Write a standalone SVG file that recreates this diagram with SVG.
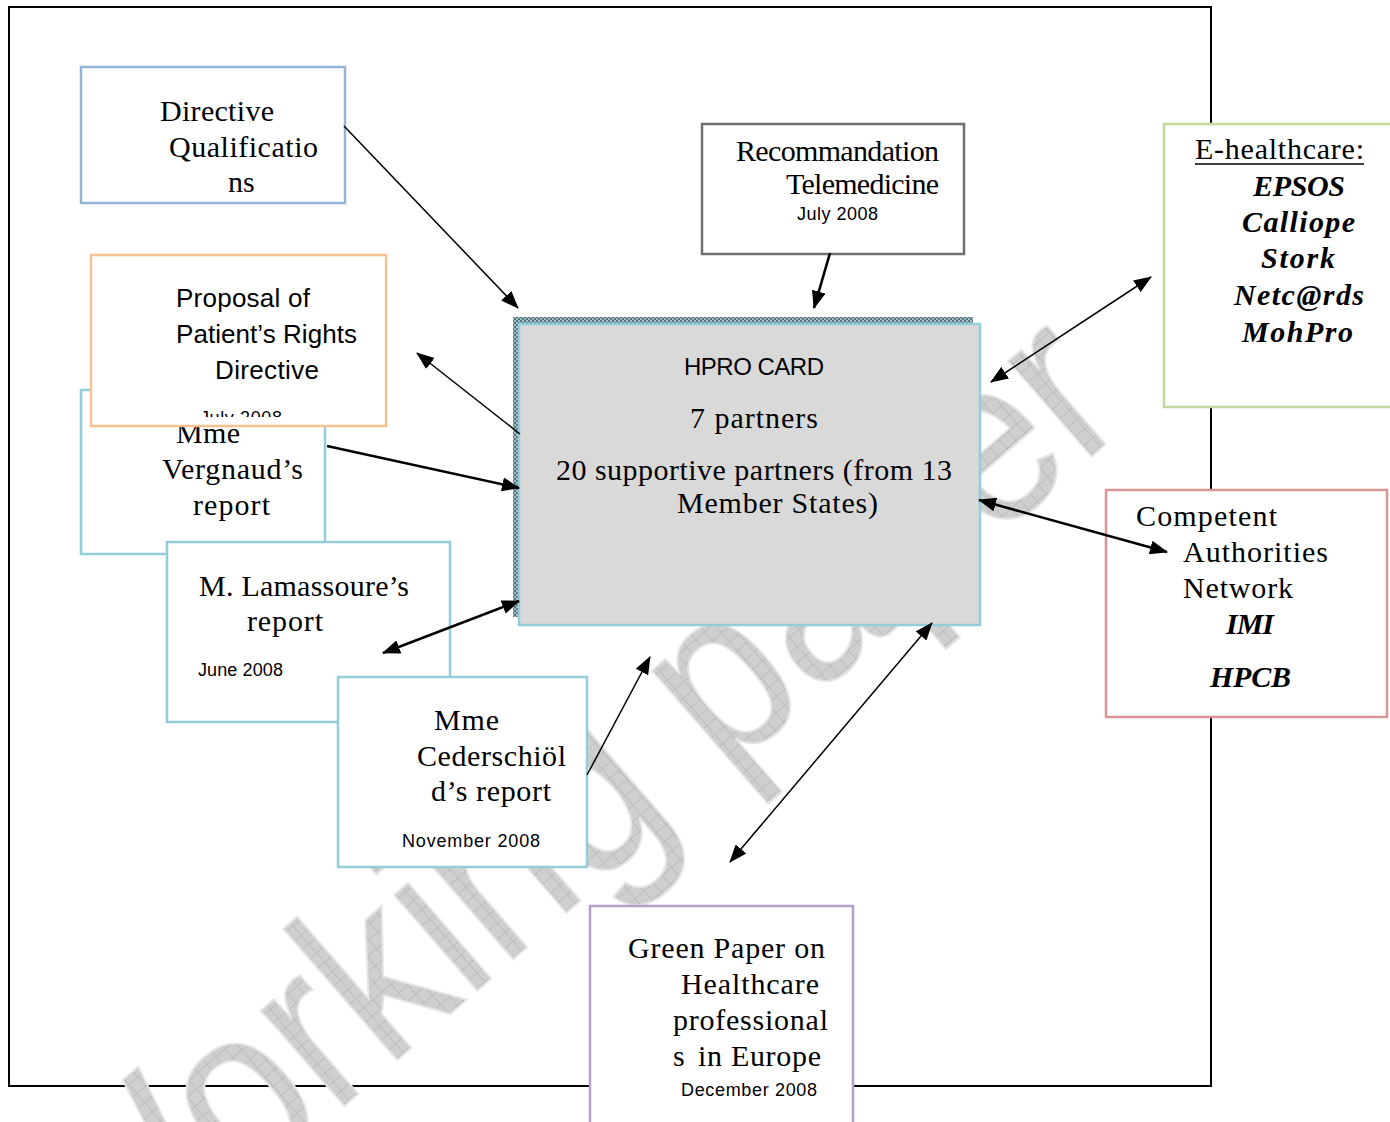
<svg xmlns="http://www.w3.org/2000/svg" width="1390" height="1122" viewBox="0 0 1390 1122">
<style>
.box{fill:#fff;stroke-width:2.5}
.serif{font-family:"Liberation Serif","DejaVu Serif",serif;font-size:30px;fill:#000}
.bi{font-family:"Liberation Serif","DejaVu Serif",serif;font-size:30px;font-weight:bold;font-style:italic;fill:#000}
.sans{font-family:"Liberation Sans","DejaVu Sans",sans-serif;fill:#000}
.conn line{stroke:#000;fill:none}
.thin{stroke-width:1.5}
.thick{stroke-width:2.6}
</style>
<defs>
<marker id="ah" markerUnits="userSpaceOnUse" markerWidth="18" markerHeight="14" refX="17" refY="7" orient="auto-start-reverse" viewBox="0 0 18 14">
<path d="M0,0 L18,7 L0,14 z" fill="#000"/>
</marker>
<pattern id="hatch" width="4" height="4" patternUnits="userSpaceOnUse">
<rect width="4" height="4" fill="#a9bcc2"/>
<rect width="2" height="2" fill="#4f7581"/>
<rect x="2" y="2" width="2" height="2" fill="#4f7581"/>
</pattern>
<pattern id="wm" width="12" height="12" patternUnits="userSpaceOnUse">
<rect width="12" height="12" fill="#cfcfcf"/>
<path d="M0,0.5 H12 M0.5,0 V12" stroke="#bdbdbd" stroke-width="1"/>
</pattern>
<clipPath id="propclip"><rect x="91" y="255" width="295" height="162"/></clipPath>
</defs>
<rect width="1390" height="1122" fill="#fff"/>
<rect id="frame" x="9" y="7" width="1202" height="1079" fill="none" stroke="#000" stroke-width="2"/>
<text id="watermark" x="96" y="1322" transform="rotate(-41 96 1322)" font-family="Liberation Sans, sans-serif" font-size="240" textLength="1375" lengthAdjust="spacingAndGlyphs" fill="url(#wm)" stroke="#e6e6e6" stroke-width="2">Working paper</text>

<g id="directive-qualifications">
<rect class="box" x="81" y="67" width="264" height="136" stroke="#95b3d7"/>
<text class="serif" x="160" y="121" textLength="114">Directive</text>
<text class="serif" x="169" y="157" textLength="149">Qualificatio</text>
<text class="serif" x="228" y="192">ns</text>
</g>

<g id="vergnaud">
<rect class="box" x="81" y="390" width="244" height="164" stroke="#92cddc"/>
<text class="serif" x="176" y="443" textLength="64">Mme</text>
<text class="serif" x="162" y="479" textLength="141">Vergnaud’s</text>
<text class="serif" x="193" y="515" textLength="77">report</text>
</g>

<g id="proposal">
<rect class="box" x="91" y="255" width="295" height="171" stroke="#fac08f"/>
<text class="sans" font-size="26" x="176" y="307" textLength="134">Proposal of</text>
<text class="sans" font-size="26" x="176" y="343" textLength="181">Patient’s Rights</text>
<text class="sans" font-size="26" x="215" y="379" textLength="104">Directive</text>
<text class="sans" font-size="18" x="200" y="424" textLength="82" clip-path="url(#propclip)">July 2008</text>
</g>

<g id="lamassoure">
<rect class="box" x="167" y="542" width="283" height="180" stroke="#92cddc"/>
<text class="serif" x="199" y="596" textLength="210">M. Lamassoure’s</text>
<text class="serif" x="247" y="631" textLength="76">report</text>
<text class="sans" font-size="18" x="198" y="676" textLength="85">June 2008</text>
</g>

<g id="cederschiold">
<rect class="box" x="338" y="677" width="249" height="190" stroke="#92cddc"/>
<text class="serif" x="434" y="730" textLength="65">Mme</text>
<text class="serif" x="417" y="766" textLength="149">Cederschiöl</text>
<text class="serif" x="431" y="801" textLength="120">d’s report</text>
<text class="sans" font-size="18" x="402" y="847" textLength="138">November 2008</text>
</g>

<g id="recommandation">
<rect class="box" x="702" y="124" width="262" height="130" stroke="#707070"/>
<text class="serif" x="736" y="161" textLength="203">Recommandation</text>
<text class="serif" x="786" y="194" textLength="153">Telemedicine</text>
<text class="sans" font-size="18" x="797" y="220" textLength="81">July 2008</text>
</g>

<g id="hpro-card">
<rect x="513" y="317" width="460" height="300" fill="url(#hatch)"/>
<rect x="519" y="324" width="461" height="301" fill="#d9d9d9" stroke="#92cddc" stroke-width="2.5"/>
<text class="sans" font-size="24" x="684" y="375" textLength="140">HPRO CARD</text>
<text class="serif" x="690" y="428" textLength="128">7 partners</text>
<text class="serif" x="556" y="480" textLength="396">20 supportive partners (from 13</text>
<text class="serif" x="677" y="513" textLength="201">Member States)</text>
</g>

<g id="e-healthcare">
<rect class="box" x="1164" y="124" width="240" height="283" stroke="#c3d69b"/>
<text class="serif" x="1195" y="159" textLength="169">E-healthcare:</text>
<line x1="1195" y1="164" x2="1364" y2="164" stroke="#000" stroke-width="1.6"/>
<text class="bi" x="1253" y="196" textLength="92">EPSOS</text>
<text class="bi" x="1242" y="232" textLength="113">Calliope</text>
<text class="bi" x="1261" y="268" textLength="74">Stork</text>
<text class="bi" x="1234" y="305" textLength="130">Netc@rds</text>
<text class="bi" x="1242" y="342" textLength="111">MohPro</text>
</g>

<g id="competent-authorities">
<rect class="box" x="1106" y="490" width="281" height="227" stroke="#d99694"/>
<text class="serif" x="1136" y="526" textLength="141">Competent</text>
<text class="serif" x="1183" y="562" textLength="145">Authorities</text>
<text class="serif" x="1183" y="598" textLength="110">Network</text>
<text class="bi" x="1226" y="634" textLength="48">IMI</text>
<text class="bi" x="1210" y="687" textLength="81">HPCB</text>
</g>

<g id="green-paper">
<rect class="box" x="590" y="906" width="263" height="230" stroke="#b2a1c7"/>
<text class="serif" x="628" y="958" textLength="197">Green Paper on</text>
<text class="serif" x="681" y="994" textLength="138">Healthcare</text>
<text class="serif" x="673" y="1030" textLength="155">professional</text>
<text class="serif" x="673" y="1066">s</text>
<text class="serif" x="698" y="1066" textLength="123">in Europe</text>
<text class="sans" font-size="18" x="681" y="1096" textLength="136">December 2008</text>
</g>

<g id="connectors" class="conn">
<line class="thin" x1="344" y1="126" x2="518" y2="308" marker-end="url(#ah)"/>
<line class="thin" x1="520" y1="434" x2="417" y2="353" marker-end="url(#ah)"/>
<line class="thick" x1="327" y1="446" x2="519" y2="488" marker-end="url(#ah)"/>
<line class="thick" x1="383" y1="653" x2="519" y2="601" marker-start="url(#ah)" marker-end="url(#ah)"/>
<line class="thin" x1="587" y1="775" x2="650" y2="657" marker-end="url(#ah)"/>
<line class="thick" x1="830" y1="253" x2="814" y2="308" marker-end="url(#ah)"/>
<line class="thin" x1="991" y1="382" x2="1151" y2="277" marker-start="url(#ah)" marker-end="url(#ah)"/>
<line class="thick" x1="979" y1="500" x2="1167" y2="552" marker-start="url(#ah)" marker-end="url(#ah)"/>
<line class="thin" x1="932" y1="623" x2="730" y2="862" marker-start="url(#ah)" marker-end="url(#ah)"/>
</g>
</svg>
